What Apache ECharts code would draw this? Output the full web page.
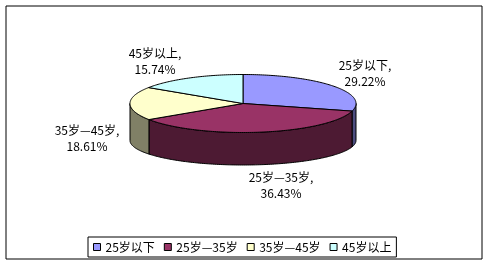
<!DOCTYPE html>
<html>
<head>
<meta charset="utf-8">
<script src="https://cdn.jsdelivr.net/npm/echarts@6/dist/echarts.min.js"></script>
<style>
  html, body { margin: 0; padding: 0; background: #fff; }
  #chart { width: 488px; height: 266px; }
</style>
</head>
<body>
<div id="chart"></div>
<script>
// Age groups and their shares (percent)
const categories = ['25岁以下', '25岁—35岁', '35岁—45岁', '45岁以上'];
const values = [29.22, 36.43, 18.61, 15.74];

// Face colours (top) and shaded side colours
const topColors = ['#9999FF', '#993366', '#FFFFCC', '#CCFFFF'];
const sideColors = ['#4D4D80', '#4D1A33', '#808066', '#668080'];

// Tilted-disc geometry (pixels)
const CX = 243, CY = 103.5, RX = 113, RY = 29;   // top face
const CYB = 140.5, RYB = 24.5;                     // bottom rim
const LABEL_POS = [[365, 73], [281, 185], [87, 138], [155, 61]];
const FONT = '"Noto Sans CJK SC", "Noto Sans", sans-serif';

const total = values.reduce((a, b) => a + b, 0);

function topPt(deg) {
  const r = deg * Math.PI / 180;
  return [CX + RX * Math.sin(r), CY - RY * Math.cos(r)];
}
function botPt(deg) {
  const r = deg * Math.PI / 180;
  return [CX + RX * Math.sin(r), CYB - RYB * Math.cos(r)];
}
function arc(fn, a, b) {
  const pts = [];
  const n = Math.max(2, Math.ceil(Math.abs(b - a) / 1));
  for (let i = 0; i <= n; i++) pts.push(fn(a + (b - a) * i / n));
  return pts;
}

function makeRender(idx) {
  return function (params, api) {
    const v = api.value(0);
    let start = 0;
    for (let i = 0; i < idx; i++) start += values[i] / total * 360;
    const end = start + v / total * 360;
    const children = [];

    // visible part of the rim lies on the front half (90°..270°)
    const s0 = Math.max(start, 90), s1 = Math.min(end, 270);
    if (s1 > s0) {
      const pts = arc(topPt, s0, s1).concat(arc(botPt, s1, s0));
      children.push({
        type: 'polygon',
        shape: { points: pts },
        style: { fill: sideColors[idx], stroke: '#000', lineWidth: 1, lineJoin: 'round' }
      });
    }

    const topPts = [[CX, CY]].concat(arc(topPt, start, end));
    children.push({
      type: 'polygon',
      shape: { points: topPts },
      style: { fill: topColors[idx], stroke: '#000', lineWidth: 1, lineJoin: 'round' }
    });

    children.push({
      type: 'text',
      style: {
        text: categories[idx] + ',\n' + v.toFixed(2) + '%',
        x: LABEL_POS[idx][0], y: LABEL_POS[idx][1],
        textAlign: 'center', textVerticalAlign: 'middle',
        fill: '#000', font: '12px ' + FONT, lineHeight: 16
      }
    });
    return { type: 'group', children: children };
  };
}

const series = categories.map((name, i) => ({
  type: 'custom',
  name: name,
  coordinateSystem: 'none',
  silent: true,
  itemStyle: { color: topColors[i] },
  data: [[values[i]]],
  renderItem: makeRender(i)
}));

const chart = echarts.init(document.getElementById('chart'), null, { renderer: 'canvas' });
chart.setOption({
  backgroundColor: '#fff',
  animation: false,
  graphic: [{
    type: 'rect',
    shape: { x: 6, y: 6, width: 476, height: 253 },
    style: { fill: 'none', stroke: '#000', lineWidth: 1 },
    z: 0
  }],
  legend: {
    left: 88, top: 237,
    orient: 'horizontal',
    padding: [3, 5, 3, 5],
    itemWidth: 7, itemHeight: 7, itemGap: 9,
    icon: 'rect',
    borderColor: '#000', borderWidth: 1,
    itemStyle: { borderColor: '#000', borderWidth: 1 },
    textStyle: { fontSize: 12, color: '#000', fontFamily: FONT, lineHeight: 14 },
    data: categories
  },
  series: series
});
</script>
</body>
</html>
